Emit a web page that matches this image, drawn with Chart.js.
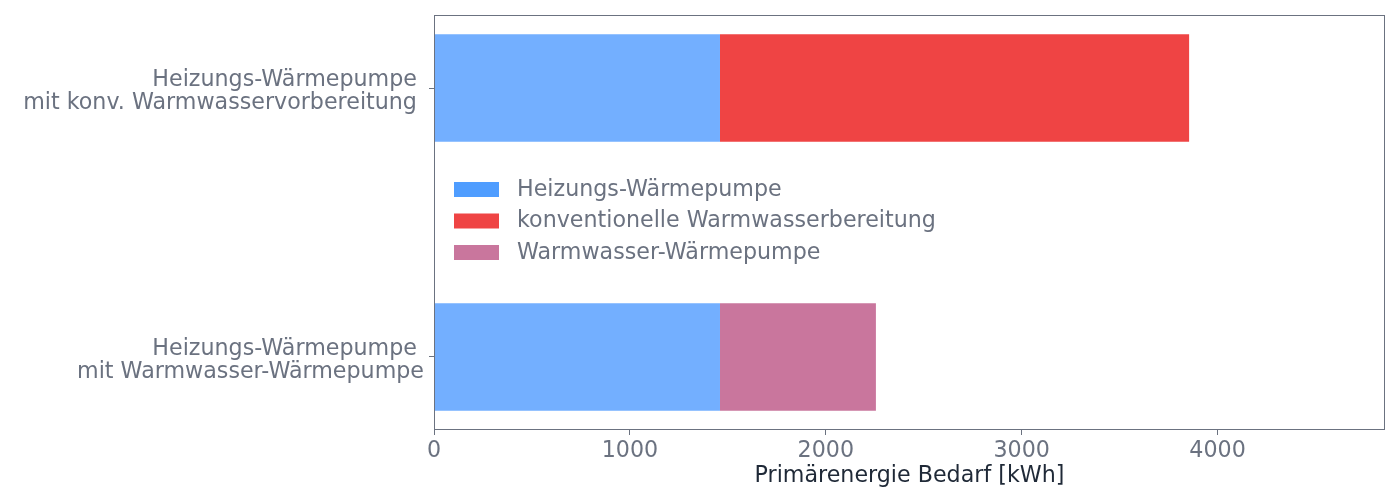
<!DOCTYPE html>
<html>
<head>
<meta charset="utf-8">
<script src="https://cdn.jsdelivr.net/npm/chart.js@4/dist/chart.umd.min.js"></script>
<style>
    html, body { margin: 0; background: #ffffff; }
    #wrap { width: 1400px; height: 500px; }
</style>
</head>
<body>
<div id="wrap"><canvas id="chart"></canvas></div>
<script>
// Kategorien (mehrzeilig)
const categories = [
    ['Heizungs-Wärmepumpe ', 'mit konv. Warmwasservorbereitung '],
    ['Heizungs-Wärmepumpe ', 'mit Warmwasser-Wärmepumpe']
];

// Serien
const seriesNames = ['Heizungs-Wärmepumpe', 'konventionelle Warmwasserbereitung', 'Warmwasser-Wärmepumpe'];
const heizungWP = [1460, 1460];
const konvWarmwasser = [2395, null];
const warmwasserWP = [null, 796];

const xTicks = [0, 1000, 2000, 3000, 4000];
const xMax = 4855;

const barColors = ['#73afff', '#ef4444', '#c9769d'];
const legendColors = ['#4f9dff', '#ef4444', '#c9769d'];

const greyText = '#6b7280';
const darkText = '#1f2937';
const FONT = 'DejaVu Sans';
const FONT_SIZE = 22.2;

function toPoints(values) {
    return values.map((v, i) => ({ x: v, y: i }));
}

// Rahmen um die Zeichenfläche
const frame = {
    id: 'frame',
    afterDatasetsDraw(chart) {
        const { ctx, chartArea: a } = chart;
        ctx.save();
        ctx.strokeStyle = greyText;
        ctx.lineWidth = 1;
        ctx.strokeRect(Math.round(a.left) + 0.5, Math.round(a.top) + 0.5,
            Math.round(a.right - a.left) - 1, Math.round(a.bottom - a.top) - 1);
        ctx.restore();
    }
};

// Y-Beschriftungen etwas tiefer setzen
const labelNudge = {
    id: 'labelNudge',
    beforeDraw(chart) {
        const scale = chart.scales.y;
        scale.getLabelItems(chart.chartArea).forEach(item => {
            if (!item.nudged) {
                item.options.translation[1] += 4;
                item.nudged = true;
            }
        });
    }
};

// Legende innerhalb der Zeichenfläche
const innerLegend = {
    id: 'innerLegend',
    afterDraw(chart) {
        const { ctx, chartArea: a } = chart;
        const rowH = 31.5;
        const n = chart.data.datasets.length;
        const midY = (a.top + a.bottom) / 2 - 1;
        const startY = midY - (n - 1) * rowH / 2;
        ctx.save();
        ctx.font = FONT_SIZE + 'px "' + FONT + '"';
        ctx.textBaseline = 'middle';
        chart.data.datasets.forEach((ds, i) => {
            const y = startY + i * rowH;
            ctx.fillStyle = legendColors[i];
            ctx.fillRect(a.left + 20, y - 8, 45, 15);
            ctx.fillStyle = greyText;
            ctx.fillText(ds.label, a.left + 83, y);
        });
        ctx.restore();
    }
};

new Chart(document.getElementById('chart'), {
    type: 'bar',
    data: {
        datasets: [
            { label: seriesNames[0], data: toPoints(heizungWP), backgroundColor: barColors[0] },
            { label: seriesNames[1], data: toPoints(konvWarmwasser), backgroundColor: barColors[1] },
            { label: seriesNames[2], data: toPoints(warmwasserWP), backgroundColor: barColors[2] }
        ]
    },
    options: {
        indexAxis: 'y',
        responsive: true,
        maintainAspectRatio: false,
        animation: false,
        layout: { padding: { top: 15, right: 15, left: 0, bottom: 0 } },
        datasets: {
            bar: { categoryPercentage: 1.0, barPercentage: 0.4, borderWidth: 0 }
        },
        scales: {
            x: {
                type: 'linear',
                stacked: true,
                min: 0,
                max: xMax,
                afterBuildTicks: (scale) => { scale.ticks = xTicks.map(v => ({ value: v })); },
                afterFit: (scale) => { scale.height = 70; },
                border: { display: false },
                grid: { drawOnChartArea: false, drawTicks: true, tickLength: 5, color: greyText },
                ticks: {
                    color: greyText,
                    padding: 3,
                    font: { family: FONT, size: FONT_SIZE },
                    callback: (v) => String(v)
                },
                title: {
                    display: true,
                    text: 'Primärenergie Bedarf [kWh]',
                    color: darkText,
                    font: { family: FONT, size: FONT_SIZE },
                    padding: { top: 0, bottom: 10 }
                }
            },
            y: {
                type: 'linear',
                stacked: true,
                reverse: true,
                offset: false,
                bounds: 'data',
                min: -0.2714,
                max: 1.2714,
                afterBuildTicks: (scale) => { scale.ticks = categories.map((c, i) => ({ value: i })); },
                afterFit: (scale) => {
                    scale.width = 434;
                    scale.paddingTop = 0;
                    scale.paddingBottom = 0;
                },
                border: { display: false },
                grid: { offset: false, drawOnChartArea: false, drawTicks: true, tickLength: 5, color: greyText },
                ticks: {
                    color: greyText,
                    padding: 5,
                    font: { family: FONT, size: FONT_SIZE, lineHeight: 1.04 },
                    callback: (v) => categories[v]
                }
            }
        },
        plugins: {
            legend: { display: false },
            tooltip: { enabled: false }
        }
    },
    plugins: [frame, labelNudge, innerLegend]
});
</script>
</body>
</html>
